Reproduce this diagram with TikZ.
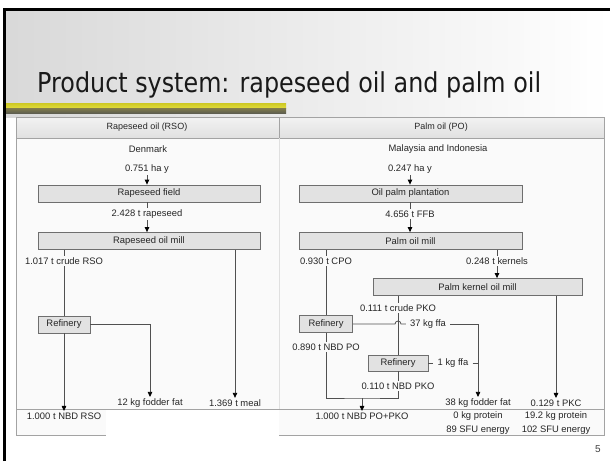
\documentclass[tikz,border=0pt]{standalone}
\usepackage{fontspec}
\setmainfont{Liberation Sans}
\newfontfamily\titlefont[FakeStretch=0.87]{DejaVu Sans}
\usetikzlibrary{arrows.meta}

\definecolor{linegray}{HTML}{505050}
\definecolor{boxgray}{HTML}{E2E2E2}
\definecolor{boxedge}{HTML}{6E6E6E}
\definecolor{tabedge}{HTML}{A3A3A3}
\definecolor{txt}{HTML}{262626}

\begin{document}
\begin{tikzpicture}[x=1pt, y=-1pt,
    proc/.style={draw=boxedge, fill=boxgray, line width=0.8pt, minimum height=17pt, inner sep=0pt, text=txt, font=\fontsize{9.4}{11}\selectfont},
    lbl/.style={inner sep=1.5pt, text=txt, font=\fontsize{9.4}{11}\selectfont},
    hdr/.style={inner sep=0pt, text=txt, font=\fontsize{9}{11}\selectfont},
    flow/.style={draw=linegray, line width=0.8pt},
    arr/.style={flow, -{Triangle[width=4.5pt,length=5pt,color=black]}}
]

    % slide
    \useasboundingbox (0,0) rectangle (610,461);
    \fill[white] (0,0) rectangle (610,461);
    \shade[left color=black!15, right color=white] (6,11) rectangle (610,117);
    \shade[top color={rgb,255:red,205;green,200;blue,35}, bottom color={rgb,255:red,225;green,220;blue,60}] (6,103) rectangle (286,108);
    \shade[top color={rgb,255:red,130;green,125;blue,75}, bottom color={rgb,255:red,95;green,95;blue,80}] (6,108) rectangle (286,113);
    \draw[line width=3pt] (4.5,461) -- (4.5,9.5) -- (610,9.5);

    \node[anchor=base west, inner sep=0pt, text=black!90, font=\titlefont\fontsize{27.4}{30}\selectfont] (title) at (37,92) {Product system: rapeseed oil and palm oil};

    % table
    \draw[tabedge, fill=black!2, line width=0.8pt] (16,117) rectangle (604,435);
    \shade[top color=black!5, bottom color=black!12, draw=tabedge, line width=0.8pt] (16,117) rectangle (604,138);
    \draw[tabedge, line width=0.8pt] (279,117) -- (279,138);
    \draw[black!12, line width=0.8pt] (279,138) -- (279,409);
    \draw[tabedge, line width=0.8pt] (16,409) -- (604,409);
    \fill[white] (106,409.6) rectangle (278.6,437);

    \node[hdr] (hL) at (147,127.5) {Rapeseed oil (RSO)};
    \node[hdr] (hR) at (441,127.5) {Palm oil (PO)};

    % rapeseed oil
    \node[lbl] (dk) at (148,149) {Denmark};
    \node[lbl] (ha1) at (147,169) {0.751 ha y};
    \node[proc, minimum width=222pt] (field) at (149,193.5) {Rapeseed field};
    \node[lbl] (rs) at (147,214) {2.428 t rapeseed};
    \node[proc, minimum width=222pt] (rmill) at (149,241) {Rapeseed oil mill};
    \node[lbl] (crsr) at (64,261) {1.017 t crude RSO};
    \node[proc, minimum width=52pt] (ref1) at (64,324.5) {Refinery};
    \node[lbl] (ff1) at (150,403) {12 kg fodder fat};
    \node[lbl] (meal) at (235,403) {1.369 t meal};
    \node[lbl] (nbd1) at (64,416) {1.000 t NBD RSO};

    \draw[arr] (ha1) -- (ha1 |- field.north);
    \draw[flow] (field.south -| rs) -- (rs);
    \draw[arr] (rs) -- (rs |- rmill.north);
    \draw[flow] (rmill.south -| crsr) -- (crsr);
    \draw[flow] (crsr) -- (ref1);
    \draw[arr] (ref1) -- (nbd1);
    \draw[arr] (ref1) -| (ff1);
    \draw[arr] (rmill.south -| meal) -- (meal);

    % palm oil
    \node[lbl] (mi) at (438,149) {Malaysia and Indonesia};
    \node[lbl] (ha2) at (410,169) {0.247 ha y};
    \node[proc, minimum width=223pt] (plant) at (410.5,193.5) {Oil palm plantation};
    \node[lbl] (ffb) at (410,214) {4.656 t FFB};
    \node[proc, minimum width=223pt] (pmill) at (410.5,241) {Palm oil mill};
    \node[lbl] (cpo) at (326,261) {0.930 t CPO};
    \node[lbl] (kern) at (497,261) {0.248 t kernels};
    \node[proc, minimum width=209pt] (kmill) at (477.5,287) {Palm kernel oil mill};
    \node[lbl] (cpko) at (398,308) {0.111 t crude PKO};
    \node[proc, minimum width=53pt] (ref2) at (326,324) {Refinery};
    \node[lbl, inner xsep=4pt] (ffa37) at (428,324) {37 kg ffa};
    \node[lbl] (nbdpo) at (326,347) {0.890 t NBD PO};
    \node[proc, minimum width=60pt, minimum height=16pt] (ref3) at (398,363) {Refinery};
    \node[lbl, inner xsep=4pt] (ffa1) at (453,363) {1 kg ffa};
    \node[lbl] (nbdpko) at (398,386) {0.110 t NBD PKO};
    \node[lbl] (sum) at (362,416) {1.000 t NBD PO+PKO};
    \node[lbl] (ff2) at (478,403) {38 kg fodder fat};
    \node[lbl] (prot2) at (478,416) {0 kg protein};
    \node[lbl] (sfu2) at (478,430) {89 SFU energy};
    \node[lbl] (pkc) at (556,403) {0.129 t PKC};
    \node[lbl] (prot3) at (556,416) {19.2 kg protein};
    \node[lbl] (sfu3) at (556,430) {102 SFU energy};

    \coordinate (hop) at (cpko |- ref2);
    \coordinate (mg) at (362,398);

    \draw[arr] (ha2) -- (ha2 |- plant.north);
    \draw[flow] (plant.south -| ffb) -- (ffb);
    \draw[arr] (ffb) -- (ffb |- pmill.north);
    \draw[flow] (pmill.south -| cpo) -- (cpo);
    \draw[flow] (cpo) -- (ref2);
    \draw[flow] (pmill.south -| kern) -- (kern);
    \draw[arr] (kern) -- (kern |- kmill.north);
    \draw[arr] (kmill.south -| pkc) -- (pkc);
    \draw[flow] (kmill.south -| cpko) -- (cpko);
    \draw[flow] (cpko) -- (ref3);
    \draw[flow] (ref2) -- ([xshift=-3pt]hop) arc[start angle=180, end angle=0, radius=3pt] -- (ffa37);
    \draw[arr] (ffa37) -| (ff2);
    \draw[flow] (ref3) -- (ffa1);
    \draw[flow] (ffa1) -- (ffa1 -| ff2);
    \draw[flow] (ref2) -- (nbdpo);
    \draw[flow] (ref3) -- (nbdpko);
    \draw[flow] (nbdpo) |- (mg) -| (nbdpko);
    \draw[arr] (mg) -- (sum);

    \node[text=black!75, font=\fontsize{10}{12}\selectfont] (pg) at (598,449) {5};

\end{tikzpicture}
\end{document}
